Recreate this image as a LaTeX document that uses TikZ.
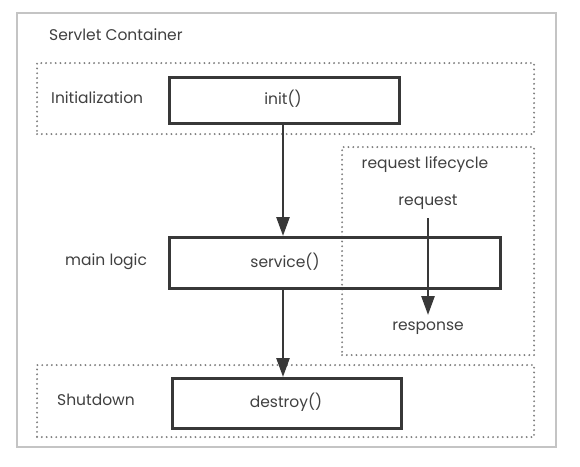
\documentclass[tikz,border=0pt]{standalone}
\usepackage{fontspec}
\setmainfont{Poppins}
\usepackage{xcolor}
\usetikzlibrary{positioning, arrows.meta}
\definecolor{inkgray}{HTML}{383838}
\definecolor{dotgray}{HTML}{7E7E7E}
\definecolor{framegray}{HTML}{C4C4C4}
\definecolor{textgray}{HTML}{404040}

\tikzset{
  labeltext/.style={text=textgray, font=\fontsize{15.5}{18}\selectfont, inner sep=0pt},
  phasebox/.style={draw=dotgray, line width=2.1pt, line cap=round,
    dash pattern=on 0pt off 4.8pt, anchor=north west, inner sep=0pt},
  callbox/.style={draw=inkgray, line width=2.5pt, anchor=north west, inner sep=0pt},
  flow/.style={draw=inkgray, line width=2.6pt, -{Triangle[length=19pt,width=13pt]}},
}

\begin{document}
\begin{tikzpicture}[x=1pt, y=-1pt]
    \useasboundingbox (0,0) rectangle (580,466);
    \fill[white] (0,0) rectangle (580,466);
    % outer frame
    \node[draw=framegray, line width=2pt, anchor=north west, inner sep=0pt,
          minimum width=539pt, minimum height=434pt] (container) at (16,12) {};
    \node[labeltext, anchor=west] (containername) at (49,35) {Servlet Container};

    % phase groups
    \node[phasebox, minimum width=497pt, minimum height=71pt] (initphase) at (36,62) {};
    \node[phasebox, minimum width=192pt, minimum height=208pt] (lifecycle) at (341,146) {};
    \node[phasebox, minimum width=497pt, minimum height=72pt] (shutdownphase) at (36,364) {};

    \node[labeltext, anchor=west] (initname) at (51,98) {Initialization};
    \node[labeltext, anchor=west] (mainname) at (65,262) {main logic};
    \node[labeltext, anchor=west] (shutname) at (57,400) {Shutdown};
    \node[labeltext] (lifecyclename) at (425,165) {request lifecycle};

    % method boxes
    \node[callbox, minimum width=230pt, minimum height=46pt] (init) at (168,76) {};
    \node[labeltext] (inittext) at (283,99) {init()};
    \node[callbox, minimum width=331pt, minimum height=51pt] (service) at (168,236) {};
    \node[labeltext] (servicetext) at (285,262) {service()};
    \node[callbox, minimum width=229pt, minimum height=50pt] (destroy) at (171,377) {};
    \node[labeltext] (destroytext) at (286,402) {destroy()};

    % request / response
    \node[labeltext] (request) at (428,202) {request};
    \node[labeltext] (response) at (428,328) {response};
    \coordinate (reqstart) at (428,218);
    \coordinate (reqend) at (428,315);

    \draw[flow] (init.south -| inittext) -- (service.north -| inittext);
    \draw[flow] (service.south -| inittext) -- (destroy.north -| inittext);
    \draw[flow] (reqstart) -- (reqend);
\end{tikzpicture}
\end{document}
